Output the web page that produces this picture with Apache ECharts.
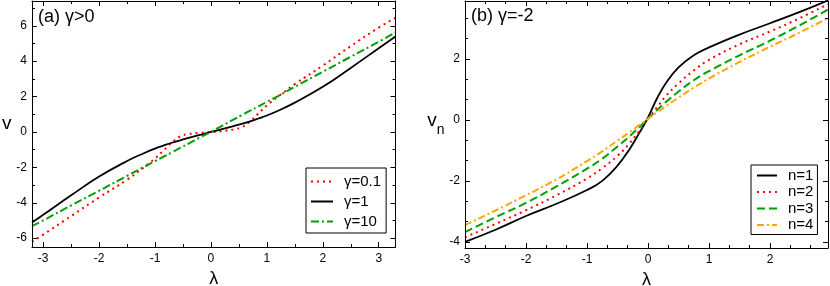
<!DOCTYPE html>
<html><head><meta charset="utf-8">
<script src="https://cdn.jsdelivr.net/npm/echarts@6/dist/echarts.min.js"></script>
<style>html,body{margin:0;padding:0;background:#fff}#c{width:830px;height:286px}</style>
</head><body><div id="c"></div>
<script>
// ---- Panel (a): gamma > 0 ----
const lamA = [-3.2,-3,-2.5,-2,-1.5,-1.2,-1,-0.85,-0.7,-0.55,-0.4,-0.2,0,0.2,0.4,0.55,0.7,0.85,1,1.2,1.5,2,2.5,3,3.3];
const vGamma01 = [-6.2,-5.8,-4.75,-3.7,-2.7,-2.0,-1.5,-1.05,-0.6,-0.25,-0.12,-0.05,0,0.05,0.14,0.27,0.6,1.05,1.5,2.0,2.7,3.75,4.85,5.9,6.45];
const vGamma1  = [-5.12,-4.68,-3.58,-2.52,-1.64,-1.2,-0.94,-0.77,-0.61,-0.47,-0.34,-0.17,0,0.16,0.33,0.46,0.6,0.76,0.93,1.2,1.66,2.55,3.62,4.73,5.4];
const vGamma10 = [-5.32,-5.0,-4.15,-3.32,-2.48,-1.98,-1.65,-1.4,-1.15,-0.9,-0.66,-0.32,0,0.35,0.7,0.95,1.2,1.45,1.7,2.03,2.55,3.4,4.25,5.1,5.62];
const namesA = ['γ=0.1','γ=1','γ=10'];
const xTicksA = [-3,-2,-1,0,1,2,3];
const xMinorA = [-2.5,-1.5,-0.5,0.5,1.5,2.5];
const yTicksA = [-6,-4,-2,0,2,4,6];
const yMinorA = [-5,-3,-1,1,3,5,7];

// ---- Panel (b): gamma = -2 ----
const lamB = [-3,-2.5,-2,-1.5,-1,-0.75,-0.5,-0.3,-0.15,0,0.15,0.3,0.5,0.75,1,1.5,2,2.5,2.95];
const vn1 = [-4.0,-3.6,-3.15,-2.75,-2.3,-2.0,-1.5,-0.95,-0.45,0.08,0.72,1.23,1.72,2.12,2.38,2.8,3.17,3.55,3.92];
const vn2 = [-3.85,-3.41,-2.96,-2.47,-1.92,-1.58,-1.18,-0.76,-0.38,0.04,0.42,0.8,1.2,1.62,1.97,2.48,2.9,3.35,3.8];
const vn3 = [-3.68,-3.19,-2.72,-2.18,-1.6,-1.27,-0.87,-0.53,-0.25,0.04,0.33,0.6,0.93,1.3,1.6,2.12,2.6,3.12,3.62];
const vn4 = [-3.45,-2.97,-2.47,-1.95,-1.35,-1.03,-0.68,-0.4,-0.18,0.04,0.25,0.46,0.73,1.06,1.36,1.9,2.4,2.88,3.34];
const namesB = ['n=1','n=2','n=3','n=4'];
const xTicksB = [-3,-2,-1,0,1,2];
const xMinorB = [-8/3,-7/3,-5/3,-4/3,-2/3,-1/3,1/3,2/3,4/3,5/3,7/3,8/3];
const yTicksB = [-4,-2,0,2];
const yMinorB = [-10/3,-8/3,-4/3,-2/3,2/3,4/3,8/3,10/3];

const FONT = '"Liberation Sans", Arial, Helvetica, sans-serif';

function axisSet(isX, gridIndex, min, max, major, minor, name, nameGap, nameTextStyle){
  const pos = isX ? ['bottom','top'] : ['left','right'];
  const out = [];
  pos.forEach((p, pi) => {
    [major, minor].forEach((vals, mi) => {
      const main = pi === 0 && mi === 0;
      out.push({
        type: 'value', gridIndex, position: p, min, max,
        axisLine: {show: mi === 0, onZero: false, lineStyle: {color: '#000', width: 1}},
        axisTick: {show: true, inside: true, length: mi === 0 ? 5 : 3, customValues: vals,
                   lineStyle: {color: '#000', width: 1}},
        axisLabel: {show: main, customValues: vals, color: '#000', fontSize: 12,
                    fontFamily: FONT, margin: isX ? 6 : 5},
        splitLine: {show: false},
        name: main ? name : '', nameLocation: 'middle', nameGap: nameGap, nameRotate: 0,
        nameTextStyle: nameTextStyle,
        z: 5
      });
    });
  });
  return out;
}
function pairs(xs, ys){ return xs.map((x, i) => [x, ys[i]]); }

const xAxes = [].concat(
  axisSet(true, 0, -3.2, 3.3, xTicksA, xMinorA, 'λ', 17, {fontSize: 18, fontFamily: FONT, color: '#000'}),
  axisSet(true, 1, -3, 2.95, xTicksB, xMinorB, 'λ', 16, {fontSize: 18, fontFamily: FONT, color: '#000'})
);
const yAxes = [].concat(
  axisSet(false, 0, -6.5, 7.4, yTicksA, yMinorA, 'v', 15, {fontSize: 19, fontFamily: FONT, color: '#000'}),
  axisSet(false, 1, -4.2, 3.9, yTicksB, yMinorB, '{v|v}{n|n}', 19, {
    fontFamily: FONT, color: '#000',
    rich: {v: {fontSize: 19, fontFamily: FONT, color: '#000', verticalAlign: 'top', lineHeight: 26},
           n: {fontSize: 14, fontFamily: FONT, color: '#000', verticalAlign: 'bottom', lineHeight: 26, padding: [12, 0, 0, 0]}}
  })
);

const RED = '#ff0000', GREEN = '#00a000', ORANGE = '#ffa500', BLACK = '#000000';
function line(name, xi, yi, xs, ys, color, width, type){
  return {name, type: 'line', xAxisIndex: xi, yAxisIndex: yi, data: pairs(xs, ys),
    symbol: 'none', smooth: 0.45, clip: true,
    lineStyle: {color, width, type}, itemStyle: {color}, emphasis: {disabled: true}};
}
const series = [
  line(namesA[0], 0, 0, lamA, vGamma01, RED, 2, [2, 4]),
  line(namesA[1], 0, 0, lamA, vGamma1, BLACK, 1.8, 'solid'),
  line(namesA[2], 0, 0, lamA, vGamma10, GREEN, 2, [8, 3, 2, 3]),
  line(namesB[0], 4, 4, lamB, vn1, BLACK, 1.8, 'solid'),
  line(namesB[1], 4, 4, lamB, vn2, RED, 2, [2, 4]),
  line(namesB[2], 4, 4, lamB, vn3, GREEN, 2, [8, 4]),
  line(namesB[3], 4, 4, lamB, vn4, ORANGE, 2, [7, 3, 2, 3])
];

const legendCommon = {
  orient: 'vertical', selectedMode: false, borderColor: '#000', borderWidth: 1, borderRadius: 0,
  backgroundColor: '#fff', itemWidth: 22, itemHeight: 12,
  itemStyle: {opacity: 0, borderWidth: 0},
  textStyle: {fontSize: 15, fontFamily: FONT, color: '#000', padding: [0, 0, 0, 6]}
};

const chart = echarts.init(document.getElementById('c'), null, {renderer: 'canvas'});
chart.setOption({
  animation: false,
  backgroundColor: '#fff',
  grid: [
    {left: 32, top: 1, width: 363.5, height: 246, outerBoundsMode: 'none', containLabel: false},
    {left: 465, top: 1, width: 363, height: 247, outerBoundsMode: 'none', containLabel: false}
  ],
  title: [
    {text: '(a) γ>0', left: 38, top: 8, padding: 0,
     textStyle: {fontSize: 18, fontWeight: 'normal', fontFamily: FONT, color: '#000'}},
    {text: '(b) γ=-2', left: 471, top: 7, padding: 0,
     textStyle: {fontSize: 18, fontWeight: 'normal', fontFamily: FONT, color: '#000'}}
  ],
  legend: [
    Object.assign({}, legendCommon, {data: namesA, left: 306, top: 168, padding: [6, 5, 4, 4], itemGap: 5}),
    Object.assign({}, legendCommon, {data: namesB, left: 751, top: 165, padding: [3, 4, 2, 5], itemGap: 1.5, itemWidth: 20})
  ],
  xAxis: xAxes,
  yAxis: yAxes,
  series: series
});
</script></body></html>
